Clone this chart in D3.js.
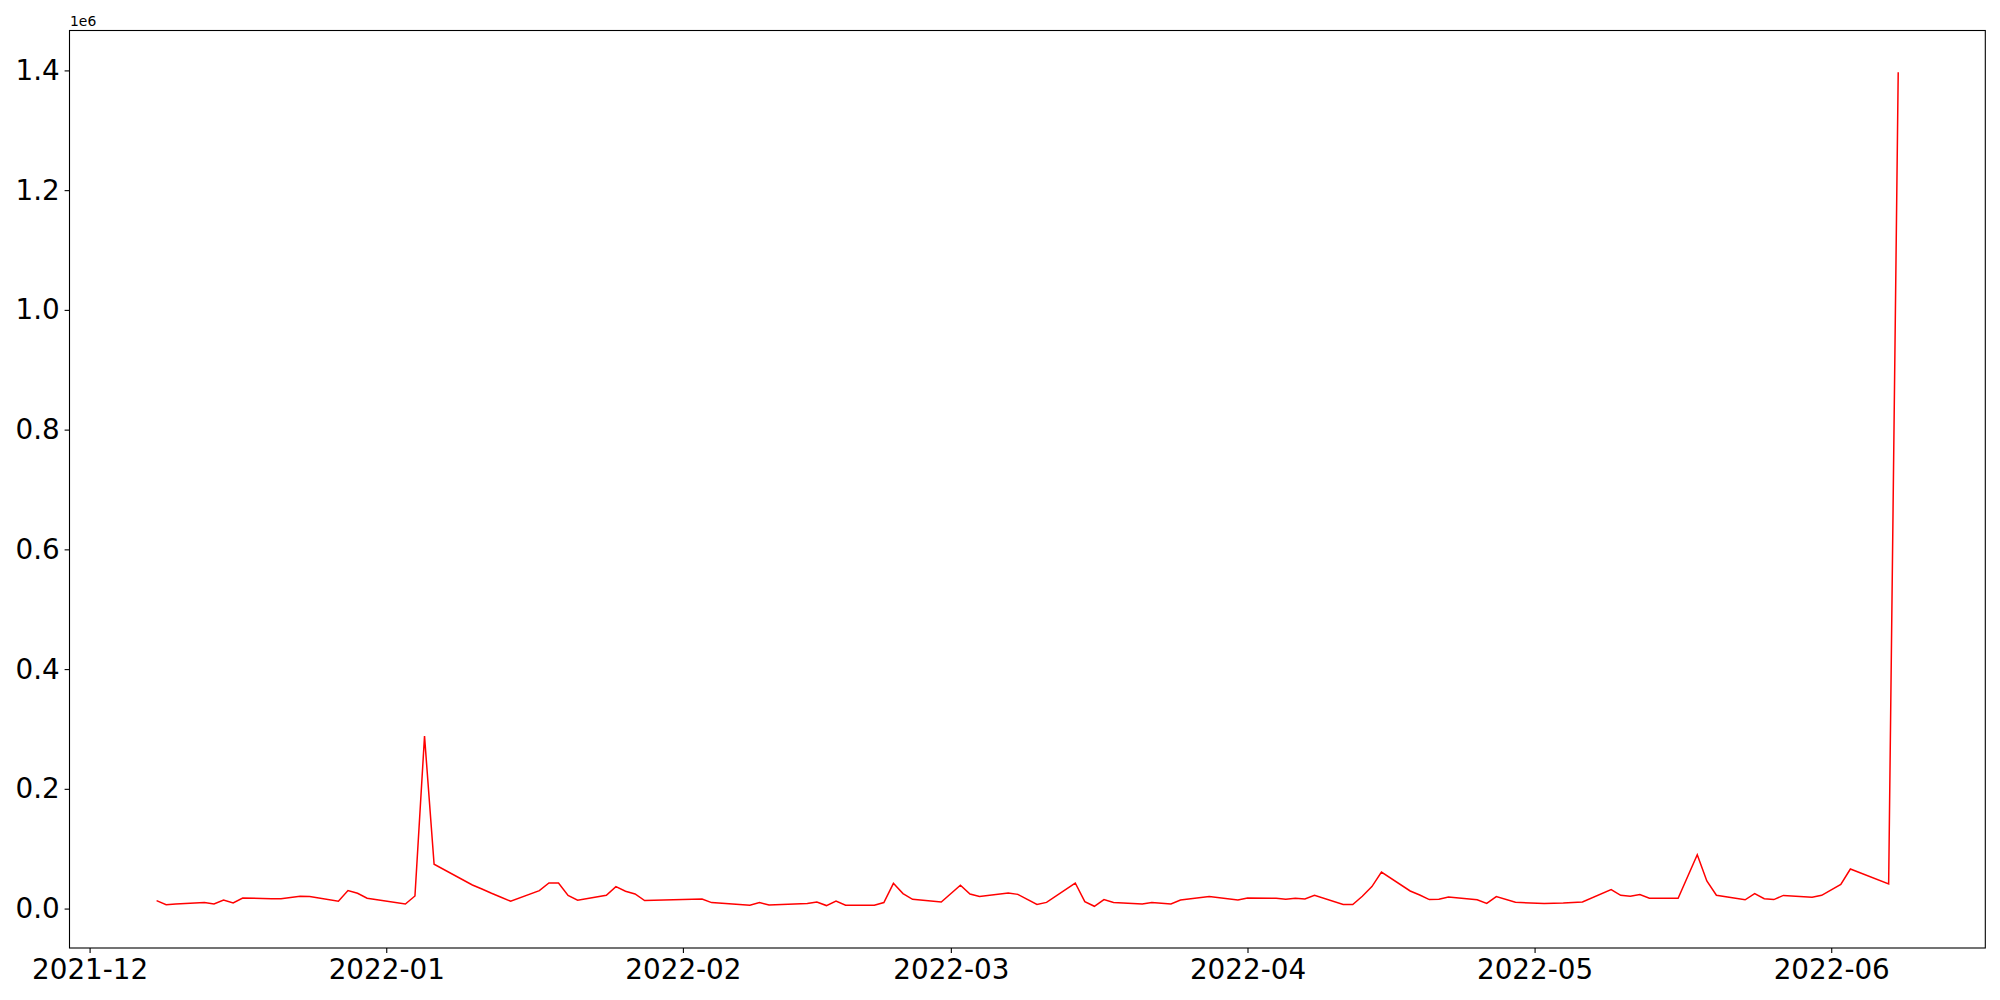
<!DOCTYPE html>
<html>
<head>
<meta charset="utf-8">
<script src="https://cdn.jsdelivr.net/npm/d3@7"></script>
<style>
  body { margin: 0; background: #ffffff; }
  svg { display: block; font-family: "DejaVu Sans", sans-serif; }
</style>
</head>
<body>
<svg></svg>
<script>
// dates of the samples
let dates = [
  "2021-12-08", "2021-12-09", "2021-12-10", "2021-12-13", "2021-12-14", "2021-12-15", "2021-12-16", "2021-12-17",
  "2021-12-20", "2021-12-21", "2021-12-22", "2021-12-23", "2021-12-24", "2021-12-27", "2021-12-28", "2021-12-29",
  "2021-12-30", "2022-01-03", "2022-01-04", "2022-01-05", "2022-01-06", "2022-01-10", "2022-01-11", "2022-01-12",
  "2022-01-13", "2022-01-14", "2022-01-17", "2022-01-18", "2022-01-19", "2022-01-20", "2022-01-21", "2022-01-24",
  "2022-01-25", "2022-01-26", "2022-01-27", "2022-01-28", "2022-02-03", "2022-02-04", "2022-02-08", "2022-02-09",
  "2022-02-10", "2022-02-14", "2022-02-15", "2022-02-16", "2022-02-17", "2022-02-18", "2022-02-21", "2022-02-22",
  "2022-02-23", "2022-02-24", "2022-02-25", "2022-02-28", "2022-03-02", "2022-03-03", "2022-03-04", "2022-03-07",
  "2022-03-08", "2022-03-10", "2022-03-11", "2022-03-14", "2022-03-15", "2022-03-16", "2022-03-17", "2022-03-18",
  "2022-03-21", "2022-03-22", "2022-03-24", "2022-03-25", "2022-03-28", "2022-03-31", "2022-04-01", "2022-04-04",
  "2022-04-05", "2022-04-06", "2022-04-07", "2022-04-08", "2022-04-11", "2022-04-12", "2022-04-13", "2022-04-14",
  "2022-04-15", "2022-04-18", "2022-04-19", "2022-04-20", "2022-04-21", "2022-04-22", "2022-04-25", "2022-04-26",
  "2022-04-27", "2022-04-29", "2022-05-02", "2022-05-03", "2022-05-04", "2022-05-06", "2022-05-09", "2022-05-10",
  "2022-05-11", "2022-05-12", "2022-05-13", "2022-05-16", "2022-05-18", "2022-05-19", "2022-05-20", "2022-05-23",
  "2022-05-24", "2022-05-25", "2022-05-26", "2022-05-27", "2022-05-30", "2022-05-31", "2022-06-02", "2022-06-03",
  "2022-06-07", "2022-06-08"
];

// values for each date
let counts = [
  13300, 6500, 7700, 10000, 7700, 14400, 9400, 17700,
  16500, 16500, 18500, 20500, 20000, 12200, 30000, 25500,
  17200, 7500, 21000, 288000, 74000, 39400, 32700, 25500,
  18800, 12200, 30000, 42700, 42700, 22000, 14000, 22200,
  36700, 28900, 24400, 13300, 16000, 10000, 5500, 10000,
  6000, 8300, 11000, 5000, 12700, 5500, 5500, 10000,
  42200, 25000, 15500, 11000, 38900, 24400, 20000, 26000,
  23700, 7000, 10300, 42700, 11700, 3800, 15000, 10000,
  7700, 10000, 7700, 14400, 20000, 14400, 17700, 17200,
  15500, 17200, 16000, 22200, 6700, 6700, 20500, 36700,
  61000, 29400, 22700, 15000, 15500, 19400, 14700, 8500,
  20000, 10500, 8300, 8800, 9200, 11000, 31700, 22200,
  20500, 23400, 17200, 17200, 90000, 46000, 22200, 14700,
  25000, 16500, 15000, 22000, 18900, 22200, 40500, 66100,
  41000, 1397000
];

// tick positions and labels
let xTickLabels = ["2021-12", "2022-01", "2022-02", "2022-03", "2022-04", "2022-05", "2022-06"];
let yTickValues = [0, 200000, 400000, 600000, 800000, 1000000, 1200000, 1400000];
let yTickLabels = ["0.0", "0.2", "0.4", "0.6", "0.8", "1.0", "1.2", "1.4"];

let width = 2000;
let height = 1000;
let margin = { left: 69.5, right: 14.7, top: 30.5, bottom: 52 };

let parseDate = d3.utcParse("%Y-%m-%d");
let parseMonth = d3.utcParse("%Y-%m");
let values = dates.map((d, i) => [parseDate(d), counts[i]]);

let svg = d3.select("svg")
  .attr("width", width)
  .attr("height", height);

let xScale;
let yScale;

// scales with matplotlib-like 5% margins
const setScales = () => {
  let xExtent = d3.extent(values, d => d[0]);
  let xPad = (xExtent[1] - xExtent[0]) * 0.05;
  xScale = d3.scaleUtc()
    .domain([new Date(+xExtent[0] - xPad), new Date(+xExtent[1] + xPad)])
    .range([margin.left, width - margin.right]);

  let yExtent = d3.extent(values, d => d[1]);
  let yPad = (yExtent[1] - yExtent[0]) * 0.05;
  yScale = d3.scaleLinear()
    .domain([yExtent[0] - yPad, yExtent[1] + yPad])
    .range([height - margin.bottom, margin.top]);
}

const drawLine = () => {
  let line = d3.line()
    .x(d => xScale(d[0]))
    .y(d => yScale(d[1]));

  svg.append("path")
    .datum(values)
    .attr("fill", "none")
    .attr("stroke", "#ff0000")
    .attr("stroke-width", 1.5)
    .attr("stroke-linejoin", "miter")
    .attr("d", line);
}

const setAxes = () => {
  let xAxis = d3.axisBottom(xScale)
    .tickValues(xTickLabels.map(parseMonth))
    .tickFormat((d, i) => xTickLabels[i])
    .tickSize(4.9)
    .tickPadding(6.4);

  let yAxis = d3.axisLeft(yScale)
    .tickValues(yTickValues)
    .tickFormat((d, i) => yTickLabels[i])
    .tickSize(4.9)
    .tickPadding(4.9);

  let gx = svg.append("g")
    .attr("transform", `translate(0, ${height - margin.bottom})`)
    .call(xAxis);

  let gy = svg.append("g")
    .attr("transform", `translate(${margin.left}, 0)`)
    .call(yAxis);

  [gx, gy].forEach(g => {
    g.select(".domain").remove();
    g.selectAll(".tick line").attr("stroke", "#000").attr("stroke-width", 1.1);
    g.selectAll(".tick text")
      .attr("fill", "#000")
      .style("font-size", "27.8px")
      .style("font-family", "'DejaVu Sans', sans-serif");
  });

  // frame (spines)
  svg.append("rect")
    .attr("x", margin.left)
    .attr("y", margin.top)
    .attr("width", width - margin.left - margin.right)
    .attr("height", height - margin.top - margin.bottom)
    .attr("fill", "none")
    .attr("stroke", "#000")
    .attr("stroke-width", 1.1);

  // offset text
  svg.append("text")
    .attr("x", margin.left + 0.5)
    .attr("y", margin.top - 5)
    .style("font-size", "13.9px")
    .attr("fill", "#000")
    .text("1e6");
}

setScales();
drawLine();
setAxes();
</script>
</body>
</html>
